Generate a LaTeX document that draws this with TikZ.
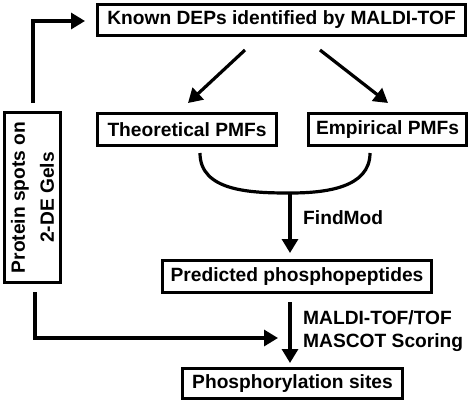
\documentclass[tikz,border=0pt]{standalone}
\usepackage{fontspec}
\setmainfont{Liberation Sans}
\usetikzlibrary{arrows.meta}
\begin{document}
\begin{tikzpicture}[x=1pt,y=-1pt,
  box/.style={draw=black,line width=3.2pt,inner sep=0pt,font=\fontsize{19.2}{23}\selectfont\bfseries,align=center},
  conn/.style={line width=3.2pt,-{Triangle[length=14pt,width=16pt]}},
  lbl/.style={font=\fontsize{19.2}{23}\selectfont\bfseries,align=left,anchor=west,inner sep=0pt}]
\useasboundingbox (0,0) rectangle (474,405);
\node[box,minimum width=368,minimum height=31] (known) at (281.5,20) {Known DEPs identified by MALDI-TOF};
\node[box,minimum width=179,minimum height=32] (theo) at (187,129.5) {Theoretical PMFs};
\node[box,minimum width=158,minimum height=32] (emp) at (387.5,129.5) {Empirical PMFs};
\node[box,minimum width=269,minimum height=32] (pred) at (297,276.5) {Predicted phosphopeptides};
\node[box,minimum width=220,minimum height=30] (phos) at (292.5,383.5) {Phosphorylation sites};
\node[box,rotate=90,minimum width=170,minimum height=56] (spots) at (32.5,197.5) {Protein spots on\\[6pt]2-DE Gels};
% arrows from top box
\coordinate (k1) at (245,50);
\coordinate (k2) at (320,50);
\coordinate (t1) at (188,103);
\coordinate (e1) at (388,103);
\draw[conn] (k1) -- (t1);
\draw[conn] (k2) -- (e1);
% merge curve
\coordinate (c1) at (200,153);
\coordinate (cb) at (290,193);
\coordinate (c2) at (370,153);
\draw[line width=3.2pt] (c1) to[out=-90,in=180] (cb) to[out=0,in=-90] (c2);
\coordinate (p1) at (290,253);
\draw[conn] (cb) -- (p1);
\node[lbl] (findmod) at (303,218) {FindMod};
% pred to phos
\coordinate (q0) at (290,302);
\coordinate (q1) at (290,363);
\draw[conn] (q0) -- (q1);
\node[lbl] (maldi) at (303,331) {MALDI-TOF/TOF\\MASCOT Scoring};
% left connectors
\coordinate (s0) at (33,103);
\coordinate (s1) at (85,21);
\draw[conn] (s0) |- (s1);
\coordinate (s2) at (35,292);
\coordinate (s3) at (278,338);
\draw[conn] (s2) |- (s3);
\end{tikzpicture}
\end{document}
